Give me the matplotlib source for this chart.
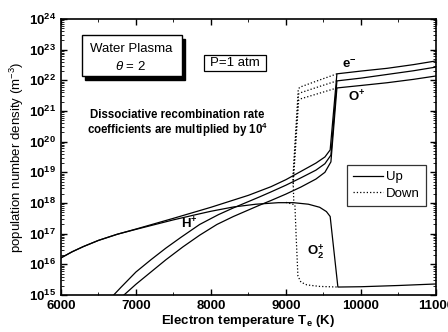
import numpy as np
import matplotlib
matplotlib.use("Agg")
import matplotlib.pyplot as plt
from matplotlib.patches import Rectangle
from matplotlib.ticker import LogLocator, NullFormatter, MultipleLocator, FixedLocator

plt.rcParams['font.family'] = ['Liberation Sans', 'DejaVu Sans']
plt.rcParams['mathtext.fontset'] = 'custom'
plt.rcParams['mathtext.rm'] = 'Liberation Sans'
plt.rcParams['mathtext.it'] = 'Liberation Sans:italic'
plt.rcParams['mathtext.bf'] = 'Liberation Sans:bold'

# ---- data (log10 of density, m^-3) ----
# Up branch
T_e_up = [6000, 6150, 6300, 6500, 6750, 7000, 7500, 8000, 8500, 8800, 9000, 9200, 9400, 9520, 9590,
          9680, 10000, 10350, 10700, 11000]
n_e_up = [16.21, 16.41, 16.58, 16.78, 16.98, 17.15, 17.50, 17.86, 18.25, 18.53, 18.76, 19.03, 19.30, 19.50, 19.73,
          22.21, 22.30, 22.39, 22.51, 22.63]

T_H_up = [6680, 6800, 7000, 7200, 7400, 7600, 7850, 8100, 8300, 8650, 8800, 9000, 9200, 9400, 9520, 9600,
          9680, 10000, 10350, 10700, 11000]
n_H_up = [14.94, 15.25, 15.75, 16.15, 16.53, 16.88, 17.30, 17.62, 17.84, 18.20, 18.36, 18.58, 18.82, 19.07, 19.28, 19.56,
          21.98, 22.07, 22.19, 22.31, 22.43]

T_O_up = [6813, 7000, 7200, 7400, 7627, 7850, 8080, 8300, 8650, 8800, 9000, 9200, 9400, 9520, 9600,
          9680, 10000, 10350, 10700, 11000]
n_O_up = [14.94, 15.35, 15.75, 16.15, 16.57, 16.95, 17.30, 17.56, 17.93, 18.08, 18.29, 18.52, 18.78, 19.00, 19.34,
          21.75, 21.83, 21.92, 22.03, 22.14]

T_O2_up = [6000, 6150, 6300, 6500, 6750, 7000, 7500, 7800, 8000, 8300, 8600, 8900, 9100, 9300, 9450, 9540, 9590,
           9693, 10000, 10500, 11000]
n_O2_up = [16.21, 16.41, 16.58, 16.78, 16.98, 17.14, 17.45, 17.62, 17.73, 17.87, 17.96, 18.01, 18.01, 17.96, 17.86, 17.72, 17.56,
           15.26, 15.27, 15.31, 15.36]

# Down branch
T_e_dn = [9680, 9450, 9190, 9165, 9095, 9105]
n_e_dn = [22.21, 22.01, 21.78, 21.72, 18.90, 18.00]

T_H_dn = [9680, 9450, 9190, 9168, 9095]
n_H_dn = [21.98, 21.80, 21.59, 21.55, 18.75]

T_O_dn = [9680, 9450, 9190, 9170, 9095]
n_O_dn = [21.75, 21.58, 21.39, 21.35, 18.55]

T_O2_dn = [9000, 9120, 9135, 9160, 9200, 9280, 9450, 9693]
n_O2_dn = [18.02, 17.94, 17.0, 15.62, 15.42, 15.33, 15.28, 15.26]

x_ticks = [6000, 7000, 8000, 9000, 10000, 11000]
y_decades = list(range(15, 25))

fig = plt.figure(figsize=(4.48, 3.32), dpi=100)
ax = fig.add_axes([0.136, 0.1114, 0.837, 0.8316])

lw = 0.9
def pw(v):
    return [10.0 ** a for a in v]

ax.plot(T_e_up, pw(n_e_up), 'k-', lw=lw, label='Up')
ax.plot(T_H_up, pw(n_H_up), 'k-', lw=lw)
ax.plot(T_O_up, pw(n_O_up), 'k-', lw=lw)
ax.plot(T_O2_up, pw(n_O2_up), 'k-', lw=lw)

ax.plot(T_e_dn, pw(n_e_dn), 'k:', lw=lw, label='Down')
ax.plot(T_H_dn, pw(n_H_dn), 'k:', lw=lw)
ax.plot(T_O_dn, pw(n_O_dn), 'k:', lw=lw)
ax.plot(T_O2_dn, pw(n_O2_dn), 'k:', lw=lw)

ax.set_yscale('log')
ax.set_xlim(6000, 11000)
ax.set_ylim(1e15, 1e24)
ax.xaxis.set_major_locator(FixedLocator(x_ticks))
ax.xaxis.set_minor_locator(MultipleLocator(500))
ax.yaxis.set_major_locator(FixedLocator([10.0 ** d for d in y_decades]))
ax.yaxis.set_minor_locator(LogLocator(base=10, subs=np.arange(2, 10), numticks=50))
ax.yaxis.set_minor_formatter(NullFormatter())
ax.set_yticklabels([r'$\mathbf{10^{%d}}$' % d for d in y_decades])
ax.set_xticklabels([str(t) for t in x_ticks], fontweight='bold')
ax.tick_params(which='both', direction='in', top=True, right=True, labelsize=9.5)
ax.tick_params(which='major', length=4, width=1)
ax.tick_params(which='minor', length=2, width=0.6)
for s in ax.spines.values():
    s.set_linewidth(1.2)

ax.set_xlabel(r'Electron temperature T$_{\mathbf{e}}$ (K)', fontsize=9.5, fontweight='bold', labelpad=1)
ax.set_ylabel(r'population number density (m$^{-3}$)', fontsize=9.5, labelpad=2)

def fx(px):
    return px / 448.0
def fy(py):
    return 1 - py / 332.0

# Water plasma box with shadow
fig.patches.append(Rectangle((fx(85), fy(80)), 100 / 448, 41 / 332, transform=fig.transFigure,
                             facecolor='black', edgecolor='black', zorder=5))
fig.patches.append(Rectangle((fx(82), fy(76)), 100 / 448, 41 / 332, transform=fig.transFigure,
                             facecolor='white', edgecolor='black', lw=1, zorder=6))
fig.text(fx(131), fy(49), 'Water Plasma', ha='center', va='center', fontsize=9.5, zorder=7)
fig.text(fx(131), fy(66), r'$\theta$ = 2', ha='center', va='center', fontsize=9.5, zorder=7)

# P box
fig.patches.append(Rectangle((fx(204), fy(71)), 62 / 448, 16 / 332, transform=fig.transFigure,
                             facecolor='white', edgecolor='black', lw=0.9, zorder=6))
fig.text(fx(235), fy(63), 'P=1 atm', ha='center', va='center', fontsize=9.5, zorder=7)

fig.text(fx(177), fy(115), 'Dissociative recombination rate', ha='center', va='center',
         fontsize=8.3, fontweight='bold')
fig.text(fx(177), fy(130), r'coefficients are multiplied by 10$^{\mathbf{4}}$', ha='center', va='center',
         fontsize=8.3, fontweight='bold')

fig.text(fx(349), fy(64), r'e$^{\mathbf{-}}$', ha='center', va='center', fontsize=9.5, fontweight='bold')
fig.text(fx(357), fy(97), r'O$^{\mathbf{+}}$', ha='center', va='center', fontsize=9.5, fontweight='bold')
fig.text(fx(189), fy(224), r'H$^{\mathbf{+}}$', ha='center', va='center', fontsize=9.5, fontweight='bold')
fig.text(fx(316), fy(252), r'O$_{\mathbf{2}}^{\mathbf{+}}$', ha='center', va='center', fontsize=9.5, fontweight='bold')

leg = ax.legend(loc='upper left', bbox_to_anchor=((347 - 61) / 375, 1 - (165 - 19) / 276),
                frameon=True, fancybox=False, edgecolor='black', fontsize=9.5,
                handlelength=2.3, handletextpad=0.2, borderpad=0.45, labelspacing=0.35,
                borderaxespad=0)
leg.get_frame().set_linewidth(0.9)

fig.savefig('out.png', dpi=100)
